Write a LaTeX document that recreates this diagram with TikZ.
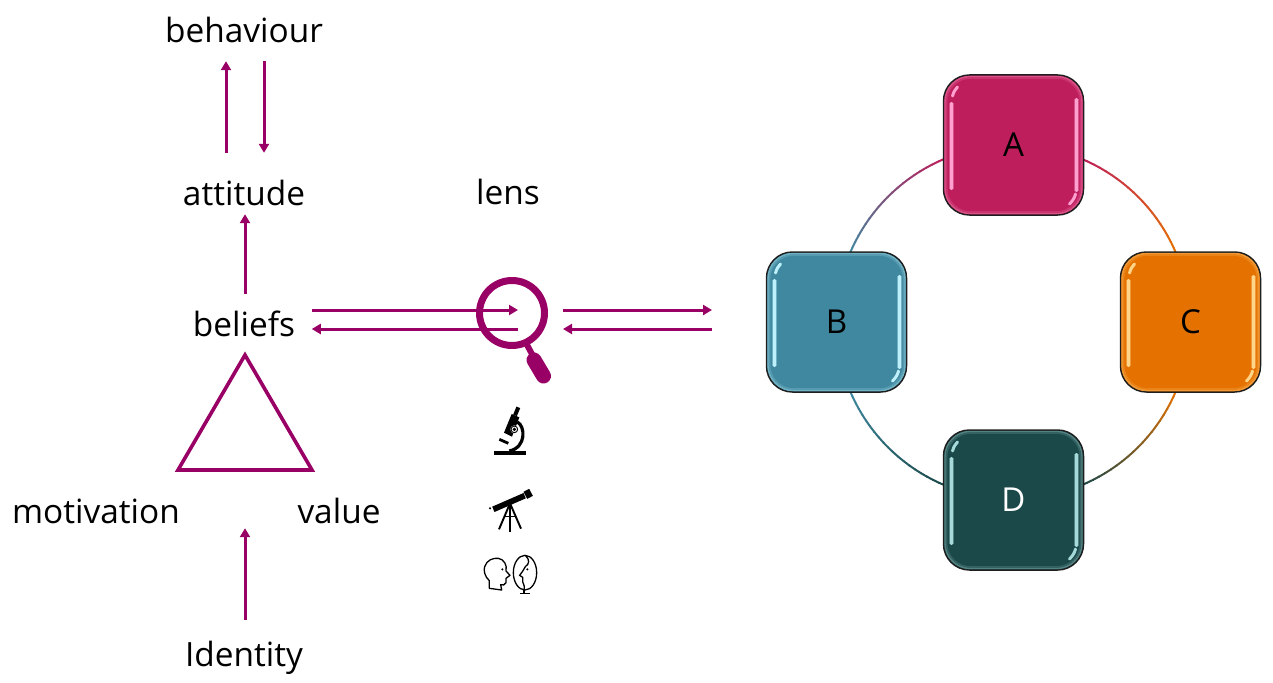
\documentclass[tikz,border=0pt]{standalone}
\usepackage{fontspec}
\setmainfont{Open Sans}
\usetikzlibrary{arrows.meta,calc}
\definecolor{plum}{HTML}{990066}
\definecolor{crim}{HTML}{BE1E5B}
\definecolor{crimL}{HTML}{FFA0D0}
\definecolor{teal}{HTML}{3F88A0}
\definecolor{tealL}{HTML}{BDF0FA}
\definecolor{amber}{HTML}{E57200}
\definecolor{amberL}{HTML}{FFD58A}
\definecolor{pine}{HTML}{1B4848}
\definecolor{pineL}{HTML}{A6DADA}
\definecolor{edge}{HTML}{1E1E1E}
\tikzset{
  word/.style={inner sep=0pt,text height=24pt,text depth=7pt,font=\fontsize{33.4}{38}\selectfont},
  flow/.style={draw=plum,line width=3pt,-{Triangle[length=9pt,width=10pt]}},
  tile/.style={draw=edge,line width=1.5pt,rounded corners=26pt,minimum size=140pt,inner sep=0pt,font=\fontsize{33}{38}\selectfont},
}
% Bevel strips on a tile; #1 is the tile, #2 its base colour, #3 the highlight colour.
\newcommand{\bevel}[3]{%
  \begin{scope}[shift={(#1.center)}]
    \draw[#3!40!#2,line width=1.6pt,rounded corners=25pt] (-68.4,-68.4) rectangle (68.4,68.4);
    \draw[#3!18!#2,line width=1.6pt,rounded corners=24pt] (-67,-67) rectangle (67,67);
    \draw[#3!40!#2,line width=4.4pt] (-62,-42) -- (-62,44);
    \draw[#3!40!#2,line width=4.4pt] (63,-46) -- (63,46);
    \draw[#3,line width=2.2pt,line cap=round] (-62,-42) -- (-62,44);
    \draw[#3,line width=2.2pt,line cap=round] (63,-46) -- (63,46);
    \draw[#3,line width=3pt,line cap=round] (-61,-49) .. controls (-60,-53) and (-58,-56) .. (-56,-58);
    \draw[#3,line width=3pt,line cap=round] (62,49) .. controls (61,53) and (59,56) .. (56,59);
  \end{scope}}
% Ring segment fading between two colours around the centre coordinate.
\newcommand{\ringarc}[4]{%
  \foreach \t in {0,...,39}{
    \pgfmathsetmacro{\angA}{#1+(#2-#1)*\t/40}
    \pgfmathsetmacro{\angB}{#1+(#2-#1)*(\t+1)/40+0.2*(#2-#1)/abs(#2-#1)}
    \pgfmathsetmacro{\mixv}{100*min(1,max(0,(\t/39-0.25)/0.5))}
    \colorlet{segc}{#4!\mixv!#3}
    \draw[segc,line width=2pt] ($(ring)+(\angA:177 and -177)$) -- ($(ring)+(\angB:177 and -177)$);
  }}
\begin{document}
\begin{tikzpicture}[x=1pt,y=-1pt]
\useasboundingbox (0,0) rectangle (1273,682);

% Left column of terms
\node[word] (behaviour) at (244,34) {behaviour};
\node[word] (attitude) at (244,197) {attitude};
\node[word] (beliefs) at (244,328) {beliefs};
\node[word] (motivation) at (96,515) {motivation};
\node[word] (value) at (339,515) {value};
\node[word] (identity) at (244,658) {Identity};
\node[word] (lens) at (508,196) {lens};

% Arrows between the terms
\draw[flow] ([xshift=-18pt,yshift=28.5pt]attitude.north) -- ([xshift=-18pt,yshift=-11.5pt]behaviour.south);
\draw[flow] ([xshift=20pt,yshift=-11.5pt]behaviour.south) -- ([xshift=20pt,yshift=28.5pt]attitude.north);
\draw[flow] ([xshift=1pt,yshift=18.5pt]beliefs.north) -- ([xshift=1pt,yshift=-1.5pt]attitude.south);
\draw[flow] ([xshift=1pt,yshift=22.5pt]identity.north) -- ([xshift=1pt,yshift=2.5pt]identity.north |- motivation.south);

% Triangle under the beliefs
\draw[plum,line width=3.6pt,line join=miter] (245,355) coordinate (apex) -- (178,470) -- (312,470) -- cycle;

% Magnifying glass
\coordinate (glass) at (512,313);
\draw[plum,line width=7pt] (glass) circle (32.5pt);
\draw[plum,line width=6pt] (526,343) -- (533,356);
\draw[plum,line width=15pt,line cap=round] (534,360) -- (543.5,376);
\coordinate (glassIn) at (518,310);
\coordinate (glassOut) at (518,329);

% Arrows through the glass and toward the ring
\coordinate (gapR1) at (563,310);
\coordinate (gapR2) at (563,329);
\coordinate (tipR1) at (712,310);
\coordinate (tipR2) at (712,329);
\draw[flow] ([xshift=16.5pt]beliefs.east |- glassIn) -- (glassIn);
\draw[flow] (glassOut) -- ([xshift=16.5pt]beliefs.east |- glassOut);
\draw[flow] (gapR1) -- (tipR1);
\draw[flow] (tipR2) -- (gapR2);

\begin{scope}[xshift=460pt,yshift=-390pt,scale=1/3]
  % Microscope
  \fill (103,182) rectangle (198,196);
  \draw[line width=4pt] (175,52) -- (165,76);
  \fill (155,72) -- (178,82) -- (156,140) -- (132,128) -- cycle;
  \draw[line width=2.8pt] (118,148) -- (145,160);
  \draw[line width=3.2pt] (172,96) .. controls (196,108) and (200,172) .. (148,183);
  \fill[white] (163,118) circle (12);
  \fill (163,118) circle (5.5);
  \draw[line width=0.9pt] (163,118) circle (10);

  % Telescope
  \draw[line width=5.8pt] (100,358) -- (194,317);
  \draw[line width=8pt] (196,316) -- (213,307);
  \fill (90,355) circle (3.5);
  \draw[line width=1.9pt] (150,340) -- (117,418);
  \draw[line width=1.9pt] (150,340) -- (150,425);
  \draw[line width=1.9pt] (150,340) -- (183,416);
  \draw[line width=1.5pt] (133,380) -- (168,380);

  % Head facing a mirror
  \draw[line width=1.3pt,line join=round] (88,595) -- (88,572) .. controls (74,560) and (70,540) .. (74,530)
     .. controls (80,510) and (100,503) .. (115,505) .. controls (132,508) and (142,525) .. (138,543)
     -- (150,556) -- (138,565) -- (138,578) .. controls (135,586) and (128,586) .. (122,584) -- (125,600) -- cycle;
  \fill (127,538) circle (3.5);
  \draw[line width=1.3pt] (195,548) ellipse (35 and 52);
  \draw[line width=1.3pt] (197,497) .. controls (210,510) and (208,522) .. (196,530)
     .. controls (190,540) and (186,548) .. (179,556) -- (188,562) -- (188,575)
     .. controls (190,585) and (196,590) .. (193,600);
  \fill (202,538) circle (3.5);
  \draw[line width=1.3pt] (192,600) -- (192,611);
  \draw[line width=1.3pt] (180,611) -- (210,611);
\end{scope}

% Ring of four tiles
\coordinate (ring) at (1013,322);
\ringarc{90}{180}{crim}{teal}
\ringarc{90}{0}{crim}{amber}
\ringarc{180}{270}{teal}{pine}
\ringarc{0}{-90}{amber}{pine}

\node[tile,fill=crim] (a) at (1013.5,145) {A};
\node[tile,fill=teal] (b) at (836.5,322) {B};
\node[tile,fill=amber] (c) at (1190.5,322) {C};
\node[tile,fill=pine,text=white] (d) at (1013.5,500) {D};
\bevel{a}{crim}{crimL}
\bevel{b}{teal}{tealL}
\bevel{c}{amber}{amberL}
\bevel{d}{pine}{pineL}
\end{tikzpicture}
\end{document}
